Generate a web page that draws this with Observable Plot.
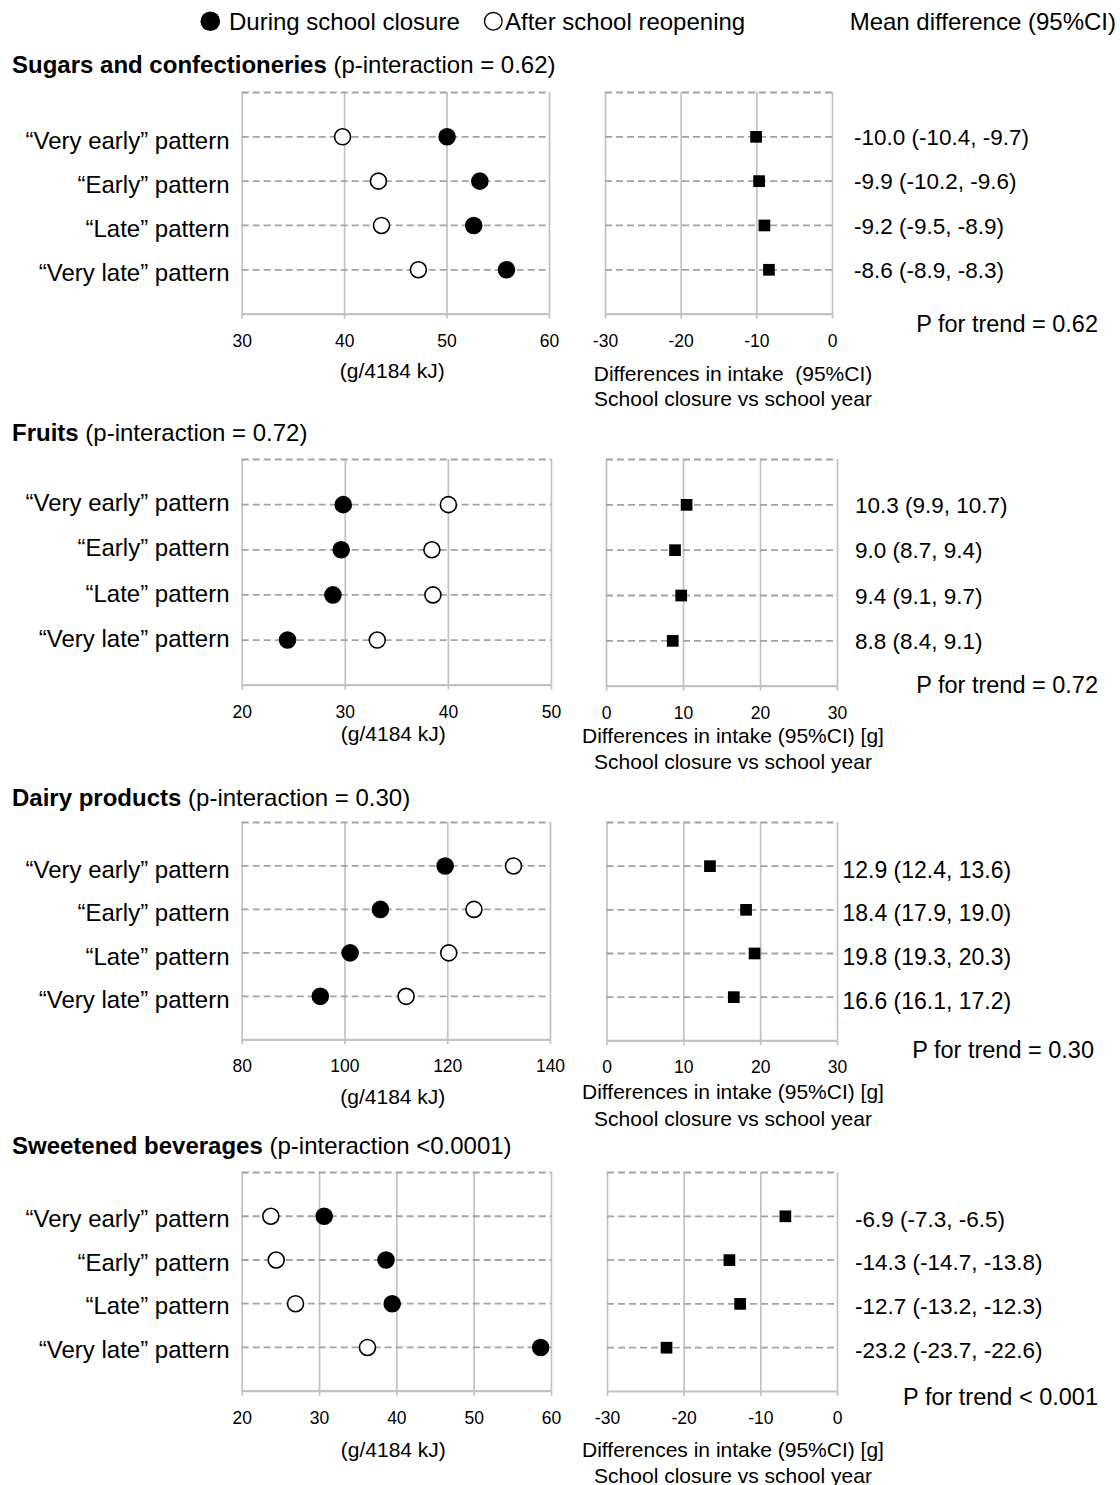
<!DOCTYPE html>
<html><head><meta charset="utf-8">
<script src="https://cdn.jsdelivr.net/npm/d3@7"></script>
<script src="https://cdn.jsdelivr.net/npm/@observablehq/plot@0.6"></script>
<style>
html,body{margin:0;padding:0;background:#fff}
#root{position:relative;width:1120px;height:1485px;overflow:hidden;font-family:"Liberation Sans",Arial,Helvetica,sans-serif;color:#000}
.t{position:absolute;white-space:pre;line-height:1}
.p{position:absolute}
.p svg{overflow:visible;display:block}
</style></head><body><div id="root"></div>
<script>
// ---------------- data ----------------
const patterns = ["\u201cVery early\u201d pattern", "\u201cEarly\u201d pattern", "\u201cLate\u201d pattern", "\u201cVery late\u201d pattern"];
const foodGroups = ["Sugars and confectioneries", "Fruits", "Dairy products", "Sweetened beverages"];
const pInteraction = [" (p-interaction = 0.62)", " (p-interaction = 0.72)", " (p-interaction = 0.30)", " (p-interaction <0.0001)"];
const pTrend = ["P for trend = 0.62", "P for trend = 0.72", "P for trend = 0.30", "P for trend < 0.001"];
const legendLabels = ["During school closure", "After school reopening", "Mean difference (95%CI)"];
const leftAxisTitle = "(g/4184 kJ)";
const rightAxisTitles = ["Differences in intake  (95%CI)", "Differences in intake (95%CI) [g]", "Differences in intake (95%CI) [g]", "Differences in intake (95%CI) [g]"];
const rightAxisSubtitle = "School closure vs school year";

const closureSugars = [50.0, 53.2, 52.6, 55.8];
const reopenSugars  = [39.8, 43.3, 43.6, 47.2];
const diffSugars    = [-10.1, -9.7, -9.0, -8.4];
const labelsSugars  = ["-10.0 (-10.4, -9.7)", "-9.9 (-10.2, -9.6)", "-9.2 (-9.5, -8.9)", "-8.6 (-8.9, -8.3)"];

const closureFruits = [29.8, 29.6, 28.8, 24.4];
const reopenFruits  = [40.0, 38.4, 38.5, 33.1];
const diffFruits    = [10.4, 8.9, 9.7, 8.6];
const labelsFruits  = ["10.3 (9.9, 10.7)", "9.0 (8.7, 9.4)", "9.4 (9.1, 9.7)", "8.8 (8.4, 9.1)"];

const closureDairy = [119.5, 106.9, 101.0, 95.2];
const reopenDairy  = [132.8, 125.1, 120.2, 111.9];
const diffDairy    = [13.4, 18.1, 19.2, 16.5];
const labelsDairy  = ["12.9 (12.4, 13.6)", "18.4 (17.9, 19.0)", "19.8 (19.3, 20.3)", "16.6 (16.1, 17.2)"];

const closureBev = [30.6, 38.6, 39.4, 58.6];
const reopenBev  = [23.7, 24.4, 26.9, 36.2];
const diffBev    = [-6.8, -14.1, -12.7, -22.3];
const labelsBev  = ["-6.9 (-7.3, -6.5)", "-14.3 (-14.7, -13.8)", "-12.7 (-13.2, -12.3)", "-23.2 (-23.7, -22.6)"];

const leftTicks  = [[30, 40, 50, 60], [20, 30, 40, 50], [80, 100, 120, 140], [20, 30, 40, 50, 60]];
const rightTicks = [[-30, -20, -10, 0], [0, 10, 20, 30], [0, 10, 20, 30], [-30, -20, -10, 0]];

const closureAll = [closureSugars, closureFruits, closureDairy, closureBev];
const reopenAll  = [reopenSugars, reopenFruits, reopenDairy, reopenBev];
const diffAll    = [diffSugars, diffFruits, diffDairy, diffBev];
const labelsAll  = [labelsSugars, labelsFruits, labelsDairy, labelsBev];

// ---------------- layout ----------------
const FONT = '"Liberation Sans", Arial, Helvetica, sans-serif';
const GRID = "#c2c2c2", DASH = "#a3a3a3", DASHARRAY = "7,4";
const layout = {
  leftFrame:  [{l:241.7,r:549,t:91.7,b:313.3},{l:241.7,r:551,t:459.3,b:685},{l:241.7,r:550,t:821.7,b:1039},{l:241.7,r:551,t:1172,b:1390.7}],
  rightFrame: [{l:605,r:832,t:91.7,b:313.3},{l:606,r:837,t:459.3,b:686},{l:606.5,r:837,t:821.7,b:1040},{l:607,r:837,t:1172,b:1391}],
  heading: [65, 433, 798, 1146],
  rowLabelDy: [4, -1, 4, 3],
  valueX: [853.5, 854.5, 842, 854.5],
  valueSize: [22.5, 22.5, 23, 22.5],
  valueDy: [1, 1, 4, 3],
  pTrendY: [325, 686, 1051, 1398],
  pTrendRight: [1098, 1098, 1094, 1098],
  leftTitleY: [370, 733, 1096, 1449],
  rightTitleY: [[373, 398], [735, 761], [1091, 1118], [1449, 1475]]
};

const root = document.getElementById("root");
function addText(str, x, y, size, anchor = "start", weight = "normal") {
  const d = document.createElement("div");
  d.className = "t";
  d.textContent = str;
  d.style.fontSize = size + "px";
  d.style.fontWeight = weight;
  d.style.top = y + "px";
  if (anchor === "start") { d.style.left = x + "px"; d.style.transform = "translateY(-50%)"; }
  else if (anchor === "middle") { d.style.left = x + "px"; d.style.transform = "translate(-50%,-50%)"; }
  else { d.style.right = (1120 - x) + "px"; d.style.transform = "translateY(-50%)"; }
  root.appendChild(d);
  return d;
}
function place(svg, x, y) {
  const d = document.createElement("div");
  d.className = "p";
  d.style.left = x + "px";
  d.style.top = y + "px";
  d.appendChild(svg);
  root.appendChild(d);
}

// legend
function legendDot(cx, cy, r, filled) {
  const svg = Plot.plot({
    width: 2 * r + 4, height: 2 * r + 4, margin: 0,
    x: {domain: [0, 1], axis: null}, y: {domain: [0, 1], axis: null},
    style: {background: "transparent", overflow: "visible"},
    marks: [Plot.dot([0], {frameAnchor: "middle", r: r, fill: filled ? "black" : "white", stroke: "black", strokeWidth: filled ? 0 : 1.3})]
  });
  place(svg, cx - r - 2, cy - r - 2);
}
legendDot(210, 21, 9.8, true);
addText(legendLabels[0], 229, 22, 24);
legendDot(493, 21, 8.8, false);
addText(legendLabels[1], 505, 22, 24);
addText(legendLabels[2], 1116, 22, 24, "end");

function gridMarks(rows, ticks) {
  return [
    Plot.ruleX(ticks, {stroke: GRID, strokeWidth: 1.7}),
    Plot.ruleY([0], {stroke: DASH, strokeWidth: 1.8, strokeDasharray: DASHARRAY}),
    Plot.ruleY(rows, {y: "row", stroke: DASH, strokeWidth: 1.8, strokeDasharray: DASHARRAY}),
    Plot.ruleY([patterns.length + 1], {stroke: GRID, strokeWidth: 2.2}),
    Plot.axisX({ticks: ticks, tickSize: 5, tickPadding: 15, stroke: GRID, strokeWidth: 1.7, fill: "#000", fontSize: 17.5, label: null, tickFormat: d => String(d)})
  ];
}

function makeLeft(i) {
  const f = layout.leftFrame[i];
  const W = 560, mt = 8, mb = 50;
  const rows = patterns.map((p, j) => ({pattern: p, row: j + 1, closure: closureAll[i][j], reopen: reopenAll[i][j]}));
  const ticks = leftTicks[i];
  const svg = Plot.plot({
    width: W, height: (f.b - f.t) + mt + mb,
    marginLeft: f.l, marginRight: W - f.r, marginTop: mt, marginBottom: mb,
    style: {fontFamily: FONT, color: "#000", background: "transparent", overflow: "visible"},
    x: {domain: [ticks[0], ticks[ticks.length - 1]]},
    y: {domain: [0, patterns.length + 1], reverse: true, axis: null},
    marks: [
      ...gridMarks(rows, ticks),
      Plot.text(rows, {y: "row", text: "pattern", frameAnchor: "left", textAnchor: "end", dx: 229 - f.l, dy: layout.rowLabelDy[i], fontSize: 24, fill: "#000"}),
      Plot.dot(rows, {x: "reopen", y: "row", r: 8, fill: "white", stroke: "black", strokeWidth: 1.6}),
      Plot.dot(rows, {x: "closure", y: "row", r: 8, fill: "black", stroke: "black", strokeWidth: 1.6})
    ]
  });
  place(svg, 0, f.t - mt);
  addText(leftAxisTitle, (f.l + f.r) / 2 - 3, layout.leftTitleY[i], 21, "middle");
}

function makeRight(i) {
  const f = layout.rightFrame[i];
  const X0 = 560, W = 1120 - X0, mt = 8, mb = 50;
  const rows = patterns.map((p, j) => ({pattern: p, row: j + 1, diff: diffAll[i][j], label: labelsAll[i][j]}));
  const ticks = rightTicks[i];
  const svg = Plot.plot({
    width: W, height: (f.b - f.t) + mt + mb,
    marginLeft: f.l - X0, marginRight: 1120 - f.r, marginTop: mt, marginBottom: mb,
    style: {fontFamily: FONT, color: "#000", background: "transparent", overflow: "visible"},
    x: {domain: [ticks[0], ticks[ticks.length - 1]]},
    y: {domain: [0, patterns.length + 1], reverse: true, axis: null},
    marks: [
      ...gridMarks(rows, ticks),
      Plot.dot(rows, {x: "diff", y: "row", symbol: "square", r: 6.6, fill: "black"}),
      Plot.text(rows, {y: "row", text: "label", frameAnchor: "right", textAnchor: "start", dx: layout.valueX[i] - f.r, dy: layout.valueDy[i], fontSize: layout.valueSize[i], fill: "#000"})
    ]
  });
  place(svg, X0, f.t - mt);
  addText(rightAxisTitles[i], 733, layout.rightTitleY[i][0], 21, "middle");
  addText(rightAxisSubtitle, 733, layout.rightTitleY[i][1], 21, "middle");
  addText(pTrend[i], layout.pTrendRight[i], layout.pTrendY[i], 23.5, "end");
}

for (let i = 0; i < 4; i++) {
  const h = document.createElement("div");
  h.className = "t";
  h.style.left = "12px";
  h.style.top = layout.heading[i] + "px";
  h.style.transform = "translateY(-50%)";
  h.style.fontSize = "24px";
  const b = document.createElement("span");
  b.style.fontWeight = "bold";
  b.textContent = foodGroups[i];
  const n = document.createElement("span");
  n.textContent = pInteraction[i];
  h.appendChild(b); h.appendChild(n);
  root.appendChild(h);
  makeLeft(i);
  makeRight(i);
}
</script></body></html>
